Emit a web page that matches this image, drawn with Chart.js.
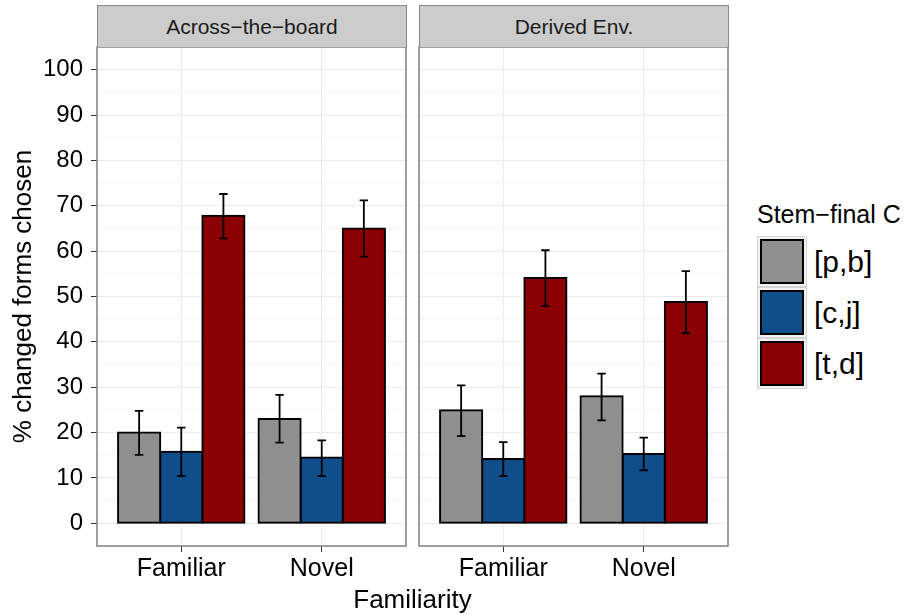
<!DOCTYPE html>
<html>
<head>
<meta charset="utf-8">
<script src="https://cdn.jsdelivr.net/npm/chart.js@4.4.0/dist/chart.umd.min.js"></script>
<style>
  html, body { margin: 0; padding: 0; background: #fff; }
  body { width: 911px; height: 615px; position: relative; overflow: hidden;
         font-family: "Liberation Sans", Arial, Helvetica, sans-serif; color: #000; }
  canvas { position: absolute; top: 0; }
  #panel1 { left: 0; }
  #panel2 { left: 412px; }
  .strip { position: absolute; top: 5px; height: 42px; width: 310px; box-sizing: border-box;
           background: #cccccc; border: 1px solid #8a8a8a; border-bottom: none;
           font-size: 21px; line-height: 41px; text-align: center; color: #1a1a1a; }
  #xtitle { position: absolute; left: 97px; width: 631px; top: 586px; text-align: center;
            font-size: 26px; line-height: 1; }
  #legend-title { position: absolute; left: 757px; top: 202px; font-size: 25px; line-height: 1; }
  .key { position: absolute; left: 757px; width: 50px; height: 51px; box-sizing: border-box;
         background: #f2f2f2; border: 1px solid #d4d4d4; }
  .key div { position: absolute; left: 2px; top: 2px; right: 2px; bottom: 2px; border: 2px solid #000; }
  .key-label { position: absolute; left: 814px; font-size: 30px; line-height: 1; }
</style>
</head>
<body>
<canvas id="panel1" width="410" height="615"></canvas>
<canvas id="panel2" width="320" height="615"></canvas>
<div class="strip" id="strip1" style="left:97px"></div>
<div class="strip" id="strip2" style="left:419px"></div>
<div id="xtitle">Familiarity</div>
<div id="legend-title">Stem−final C</div>
<div id="legend"></div>

<script>
const categories = ['Familiar', 'Novel'];
const groups = ['[p,b]', '[c,j]', '[t,d]'];
const facets = ['Across−the−board', 'Derived Env.'];
const fills = ['#8f8f8f', '#104e8b', '#8b0000'];
const yTicks = [0, 10, 20, 30, 40, 50, 60, 70, 80, 90, 100];

// Across-the-board: one row per stem-final C, one value per familiarity
const atbMean = [[20.0, 23.0], [15.8, 14.5], [67.8, 65.0]];
const atbLow  = [[15.1, 17.8], [10.4, 10.4], [62.8, 58.8]];
const atbHigh = [[24.8, 28.3], [21.1, 18.3], [72.6, 71.2]];

// Derived environment
const denMean = [[24.9, 28.0], [14.2, 15.3], [54.1, 48.8]];
const denLow  = [[19.2, 22.7], [10.4, 11.7], [47.9, 41.9]];
const denHigh = [[30.4, 33.0], [17.9, 18.9], [60.2, 55.6]];

Chart.defaults.font.family = '"Liberation Sans", Arial, Helvetica, sans-serif';
Chart.defaults.color = '#000';

document.getElementById('strip1').textContent = facets[0];
document.getElementById('strip2').textContent = facets[1];

// legend keys
const legend = document.getElementById('legend');
groups.forEach((g, i) => {
  const top = 236 + i * 51;
  const key = document.createElement('div');
  key.className = 'key';
  key.style.top = top + 'px';
  const inner = document.createElement('div');
  inner.style.background = fills[i];
  key.appendChild(inner);
  legend.appendChild(key);
  const lab = document.createElement('div');
  lab.className = 'key-label';
  lab.style.top = (top + 11) + 'px';
  lab.textContent = g;
  legend.appendChild(lab);
});

function isMajor(v) { return yTicks.includes(v); }

function errorBars(low, high) {
  return {
    id: 'errorBars',
    afterDatasetsDraw(chart) {
      const ctx = chart.ctx, y = chart.scales.y;
      ctx.save();
      ctx.strokeStyle = '#000';
      ctx.lineWidth = 1.8;
      chart.data.datasets.forEach((ds, d) => {
        chart.getDatasetMeta(d).data.forEach((bar, i) => {
          const half = bar.width * 0.1;
          const yl = y.getPixelForValue(low[d][i]);
          const yh = y.getPixelForValue(high[d][i]);
          ctx.beginPath();
          ctx.moveTo(bar.x, yl); ctx.lineTo(bar.x, yh);
          ctx.moveTo(bar.x - half, yl); ctx.lineTo(bar.x + half, yl);
          ctx.moveTo(bar.x - half, yh); ctx.lineTo(bar.x + half, yh);
          ctx.stroke();
        });
      });
      ctx.restore();
    }
  };
}

const panelBorder = {
  id: 'panelBorder',
  afterDraw(chart) {
    const a = chart.chartArea, ctx = chart.ctx;
    ctx.save();
    ctx.strokeStyle = '#7f7f7f';
    ctx.lineWidth = 1.5;
    ctx.strokeRect(a.left, a.top, a.right - a.left, a.bottom - a.top);
    ctx.restore();
  }
};

function makePanel(id, mean, low, high, showY) {
  const datasets = groups.map((g, s) => ({
    label: g,
    data: mean[s].map((v, i) => ({ x: i + 1, y: v })),
    backgroundColor: fills[s],
    borderColor: '#000',
    borderWidth: 2,
    borderSkipped: false,
    inflateAmount: 1,
    categoryPercentage: 0.9,
    barPercentage: 1.0
  }));

  new Chart(document.getElementById(id), {
    type: 'bar',
    data: { datasets: datasets },
    plugins: [errorBars(low, high), panelBorder],
    options: {
      responsive: false,
      animation: false,
      devicePixelRatio: 1,
      layout: { padding: { top: 47, right: 4, bottom: 0, left: showY ? 0 : 7 } },
      plugins: { legend: { display: false }, tooltip: { enabled: false } },
      scales: {
        x: {
          type: 'linear',
          bounds: 'data',
          min: 0.4,
          max: 2.6,
          offset: false,
          afterBuildTicks: s => { s.ticks = categories.map((c, i) => ({ value: i + 1 })); },
          afterFit: s => { s.height = 69; },
          ticks: {
            callback: v => categories[v - 1],
            font: { size: 25 },
            color: '#000',
            padding: 2,
            maxRotation: 0,
            autoSkip: false
          },
          grid: { offset: false, color: '#ebebeb', tickColor: '#333', tickLength: 6, lineWidth: 1 },
          border: { display: false }
        },
        y: {
          bounds: 'data',
          min: -5,
          max: 105,
          afterBuildTicks: s => {
            const t = [];
            yTicks.forEach((v, i) => {
              t.push({ value: v });
              if (i < yTicks.length - 1) t.push({ value: (v + yTicks[i + 1]) / 2 });
            });
            s.ticks = t;
          },
          afterFit: s => { s.width = showY ? 97 : 0; },
          title: {
            display: showY,
            text: '% changed forms chosen',
            font: { size: 26 },
            color: '#000',
            padding: { top: 8, bottom: 0 }
          },
          ticks: {
            display: showY,
            callback: v => isMajor(v) ? String(v) : '',
            font: { size: 24 },
            color: '#000',
            padding: 8,
            autoSkip: false
          },
          grid: {
            color: c => isMajor(c.tick.value) ? '#ebebeb' : '#f7f7f7',
            tickColor: c => isMajor(c.tick.value) ? '#333' : 'rgba(0,0,0,0)',
            drawTicks: showY,
            tickLength: 6,
            lineWidth: 1
          },
          border: { display: false }
        }
      }
    }
  });
}

makePanel('panel1', atbMean, atbLow, atbHigh, true);
makePanel('panel2', denMean, denLow, denHigh, false);
</script>
</body>
</html>
